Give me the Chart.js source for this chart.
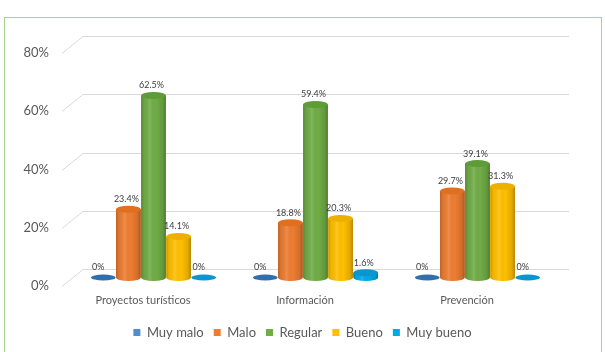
<!DOCTYPE html>
<html>
<head>
<meta charset="utf-8">
<script src="https://cdn.jsdelivr.net/npm/chart.js@4.4.0/dist/chart.umd.min.js"></script>
<style>
  html, body { margin: 0; padding: 0; background: #fff; }
  body { width: 605px; height: 352px; position: relative; overflow: hidden; }
  #frame { position: absolute; left: 4px; top: 17px; width: 596px; height: 345px; border: 1px solid #a9d18e; }
  #chart { position: absolute; left: 0; top: 0; }
</style>
</head>
<body>
<div id="frame"></div>
<canvas id="chart" width="605" height="352"></canvas>
<script>
// chart data
const categories = ['Proyectos turísticos', 'Información', 'Prevención'];
const seriesNames = ['Muy malo', 'Malo', 'Regular', 'Bueno', 'Muy bueno'];
const muyMalo = [0, 0, 0];
const malo = [23.4, 18.8, 29.7];
const regular = [62.5, 59.4, 39.1];
const bueno = [14.1, 20.3, 31.3];
const muyBueno = [0, 1.6, 0];
const yTicks = [0, 20, 40, 60, 80];

// colours: face, top ellipse
const faceColors = ['#4f8dcb', '#ed7d31', '#70ad47', '#ffc000', '#00a9ea'];
const topColors = ['#2f6fae', '#e0701f', '#5e9c37', '#eeb000', '#0a95d0'];

// depth offset of the bars (half depth of the floor)
const DX = 10.5, DY = -8.5;

const cylinders = {
    id: 'cylinders',
    beforeDatasetsDraw(chart) {
        const {ctx, chartArea, scales: {y}} = chart;
        ctx.save();
        ctx.strokeStyle = '#d9d9d9';
        ctx.lineWidth = 1;
        yTicks.forEach(v => {
            const yp = Math.round(y.getPixelForValue(v)) + 0.5;
            ctx.beginPath();
            ctx.moveTo(chartArea.left, yp);
            ctx.lineTo(chartArea.left + 2 * DX, yp + 2 * DY);
            ctx.lineTo(chartArea.right + 2 * DX, yp + 2 * DY);
            ctx.stroke();
        });
        ctx.restore();
        ctx.save();
        ctx.translate(DX, DY);
    },
    afterDatasetsDraw(chart) {
        const ctx = chart.ctx;
        chart.data.datasets.forEach((ds, i) => {
            const meta = chart.getDatasetMeta(i);
            meta.data.forEach((bar, j) => {
                const {x, y, base, width} = bar.getProps(['x', 'y', 'base', 'width'], true);
                const rx = width / 2;
                const ry = 3.5;
                const value = ds.data[j];
                if (value > 0) {
                    // body with rounded bottom
                    ctx.beginPath();
                    ctx.moveTo(x - rx, y);
                    ctx.lineTo(x - rx, base);
                    ctx.ellipse(x, base, rx, ry, 0, Math.PI, 0, true);
                    ctx.lineTo(x + rx, y);
                    ctx.closePath();
                    ctx.fillStyle = faceColors[i];
                    ctx.fill();
                    const g = ctx.createLinearGradient(x - rx, 0, x + rx, 0);
                    g.addColorStop(0, 'rgba(0,0,0,0.22)');
                    g.addColorStop(0.12, 'rgba(0,0,0,0.05)');
                    g.addColorStop(0.35, 'rgba(255,255,255,0.12)');
                    g.addColorStop(0.6, 'rgba(0,0,0,0)');
                    g.addColorStop(0.88, 'rgba(0,0,0,0.12)');
                    g.addColorStop(1, 'rgba(0,0,0,0.3)');
                    ctx.fillStyle = g;
                    ctx.fill();
                }
                // top ellipse (or flat disk for zero)
                ctx.beginPath();
                ctx.ellipse(x, y, rx, value > 0 ? ry : 3, 0, 0, Math.PI * 2);
                ctx.fillStyle = topColors[i];
                ctx.fill();

                // value label
                ctx.fillStyle = '#404040';
                ctx.font = '9px Lato';
                ctx.textAlign = 'center';
                ctx.textBaseline = 'middle';
                ctx.fillText(value + '%', x - (value > 0 ? 2 : 5), y - 10);
            });
        });
        ctx.restore();
    }
};

function makeDataset(label, data, idx) {
    return {
        label: label,
        data: data,
        backgroundColor: faceColors[idx],
        borderWidth: 0,
        barPercentage: 0.98,
        categoryPercentage: 0.775
    };
}

const chart = new Chart(document.getElementById('chart'), {
    type: 'bar',
    data: {
        labels: categories,
        datasets: [
            makeDataset(seriesNames[0], muyMalo, 0),
            makeDataset(seriesNames[1], malo, 1),
            makeDataset(seriesNames[2], regular, 2),
            makeDataset(seriesNames[3], bueno, 3),
            makeDataset(seriesNames[4], muyBueno, 4)
        ]
    },
    options: {
        responsive: false,
        animation: false,
        layout: {
            padding: { top: 53, bottom: 3, left: 0, right: 0 }
        },
        plugins: {
            legend: {
                position: 'bottom',
                labels: {
                    boxWidth: 7,
                    boxHeight: 7,
                    padding: 10,
                    color: '#595959',
                    font: { family: 'Lato', size: 13 }
                }
            },
            tooltip: { enabled: false }
        },
        scales: {
            x: {
                grid: { display: false, drawTicks: false },
                border: { display: false },
                ticks: {
                    color: '#595959',
                    padding: 8,
                    font: { family: 'Lato', size: 11 }
                },
                afterFit(scale) { scale.height = 30; }
            },
            y: {
                min: 0,
                max: 80,
                grid: { display: false, drawTicks: false },
                border: { display: false },
                ticks: {
                    stepSize: 20,
                    color: '#595959',
                    padding: 13,
                    font: { family: 'Lato', size: 13 },
                    callback: v => v + '%'
                },
                afterFit(scale) { scale.width = 62; }
            },
            y2: {
                position: 'right',
                grid: { display: false, drawTicks: false },
                border: { display: false },
                ticks: { display: false },
                afterFit(scale) { scale.width = 57; }
            }
        }
    },
    plugins: [cylinders]
});
</script>
</body>
</html>
